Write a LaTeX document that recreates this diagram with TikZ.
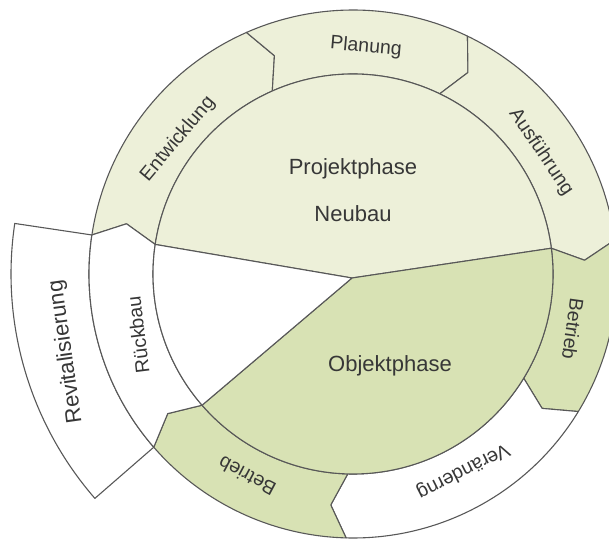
\documentclass[tikz,border=0pt]{standalone}
\usepackage{fontspec}
\setmainfont{Liberation Sans}
\definecolor{hell}{RGB}{237,240,217}
\definecolor{dunkel}{RGB}{216,226,180}
\definecolor{linie}{RGB}{88,88,88}
\definecolor{schrift}{RGB}{55,55,55}
\begin{document}
\begin{tikzpicture}[x=1pt,y=1pt,
  seg/.style={draw=linie,line width=1.1pt,line join=round},
  lbl/.style={text=schrift,font=\fontsize{19.5}{22}\selectfont},
  big/.style={text=schrift,font=\fontsize{22}{24}\selectfont}]
\useasboundingbox (-353,-266) rectangle (256,274);
\clip (-353,-266) rectangle (256,274);
\coordinate (J) at (-1,-4);
\draw[seg,fill=white] (171.5:264) -- (171.5:342) arc[start angle=171.5,end angle=221,radius=342] -- (221:264) arc[start angle=221,end angle=171.5,radius=264] -- cycle;
\draw[seg,fill=hell] (171.5:264) arc[start angle=171.5,end angle=113.8,radius=264] -- (109.8:232) -- (113.8:200) arc[start angle=113.8,end angle=171.5,radius=200] -- (167.5:232) -- cycle;
\draw[seg,fill=hell] (113.8:264) arc[start angle=113.8,end angle=64.3,radius=264] -- (60.3:232) -- (64.3:200) arc[start angle=64.3,end angle=113.8,radius=200] -- (109.8:232) -- cycle;
\draw[seg,fill=hell] (64.3:264) arc[start angle=64.3,end angle=7.4,radius=264] -- (3.4:232) -- (7.4:200) arc[start angle=7.4,end angle=64.3,radius=200] -- (60.3:232) -- cycle;
\draw[seg,fill=dunkel] (7.4:264) arc[start angle=7.4,end angle=-31.4,radius=264] -- (-35.4:232) -- (-31.4:200) arc[start angle=-31.4,end angle=7.4,radius=200] -- (3.4:232) -- cycle;
\draw[seg,fill=white] (-31.4:264) arc[start angle=-31.4,end angle=-91.5,radius=264] -- (-95.5:232) -- (-91.5:200) arc[start angle=-91.5,end angle=-31.4,radius=200] -- (-35.4:232) -- cycle;
\draw[seg,fill=dunkel] (-91.5:264) arc[start angle=-91.5,end angle=-139,radius=264] -- (-143:232) -- (-139:200) arc[start angle=-139,end angle=-91.5,radius=200] -- (-95.5:232) -- cycle;
\draw[seg,fill=white] (221:264) arc[start angle=221,end angle=171.5,radius=264] -- (167.5:232) -- (171.5:200) arc[start angle=171.5,end angle=221,radius=200] -- (217:232) -- cycle;
\draw[seg,fill=hell] (J) -- (171.5:200) arc[start angle=171.5,end angle=7.4,radius=200] -- cycle;
\draw[seg,fill=dunkel] (J) -- (7.4:200) arc[start angle=7.4,end angle=-139,radius=200] -- cycle;
\draw[seg,fill=white] (J) -- (221:200) arc[start angle=221,end angle=171.5,radius=200] -- cycle;
\node[big] (projekt) at (0,105) {Projektphase};
\node[big] (neubau) at (0,60) {Neubau};
\node[big] (objekt) at (37,-91.5) {Objektphase};
\node[lbl,rotate=50] (entw) at (-175,135) {Entwicklung};
\node[lbl,rotate=-5] (plan) at (13,227) {Planung};
\node[lbl,rotate=-56] (ausf) at (188,122) {Ausführung};
\node[lbl,rotate=-98] (betrR) at (220,-55) {Betrieb};
\node[lbl,rotate=-153] (veraend) at (110,-197) {Veränderng};
\node[lbl,rotate=152] (betrU) at (-106,-202) {Betrieb};
\node[lbl,rotate=97] (rueck) at (-215,-61) {Rückbau};
\node[big,rotate=98] (revit) at (-287,-78) {Revitalisierung};
\end{tikzpicture}
\end{document}
